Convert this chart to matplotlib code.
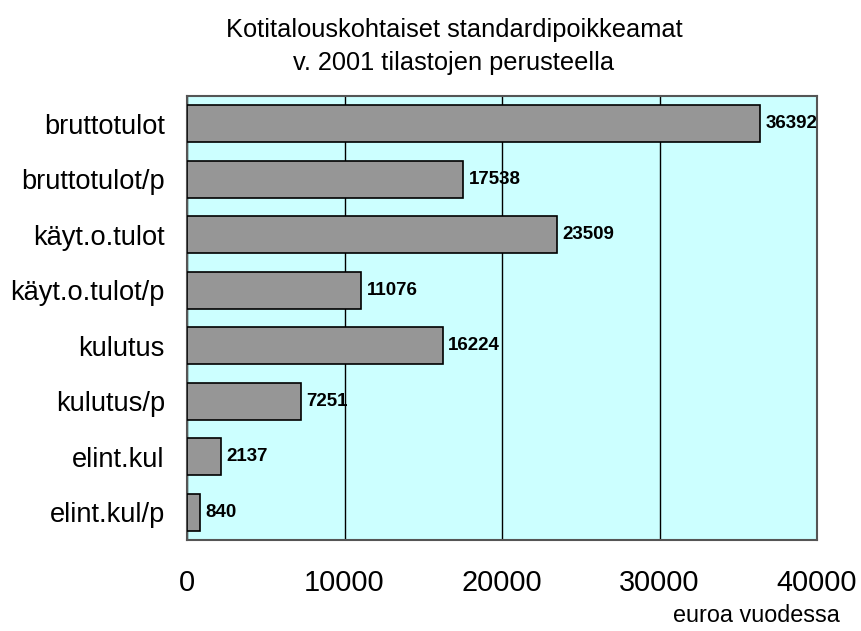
import matplotlib
matplotlib.use("Agg")
import matplotlib.pyplot as plt

plt.rcParams["font.family"] = ["Liberation Sans", "DejaVu Sans"]

categories = ["bruttotulot", "bruttotulot/p", "käyt.o.tulot", "käyt.o.tulot/p",
              "kulutus", "kulutus/p", "elint.kul", "elint.kul/p"]
values = [36392, 17538, 23509, 11076, 16224, 7251, 2137, 840]
xticks = [0, 10000, 20000, 30000, 40000]

fig = plt.figure(figsize=(8.61, 6.31), dpi=100, facecolor="white")
ax = fig.add_axes([187 / 861, 1 - 540 / 631, 630 / 861, 444 / 631])
ax.set_facecolor("#CCFFFF")

ypos = list(range(len(categories)))
ax.barh(ypos, values, height=0.67, color="#969696", edgecolor="black", linewidth=1.2, zorder=3)
for y, v in zip(ypos, values):
    ax.text(v + 350, y, str(v), va="center", ha="left", fontsize=13.5, fontweight="bold", zorder=4)

ax.set_xlim(0, 40000)
ax.set_ylim(len(categories) - 0.5, -0.5)
ax.set_xticks(xticks)
ax.set_xticklabels([str(t) for t in xticks], fontsize=20.8)
ax.set_yticks(ypos)
ax.set_yticklabels(categories, fontsize=19.6)
ax.tick_params(axis="x", length=0, pad=21)
ax.tick_params(axis="y", length=0, pad=16)
ax.grid(axis="x", color="black", linewidth=1, zorder=1)
for s in ax.spines.values():
    s.set_color("#555555")
    s.set_linewidth(1.5)

fig.text(454 / 861, 1 - 30 / 631, "Kotitalouskohtaiset standardipoikkeamat",
         ha="center", va="center", fontsize=18.3)
fig.text(454 / 861, 1 - 63 / 631, "v. 2001 tilastojen perusteella",
         ha="center", va="center", fontsize=18.3)
fig.text(756 / 861, 1 - 616 / 631, "euroa vuodessa", ha="center", va="center", fontsize=16.8)

fig.savefig("out.png", dpi=100, facecolor="white")
